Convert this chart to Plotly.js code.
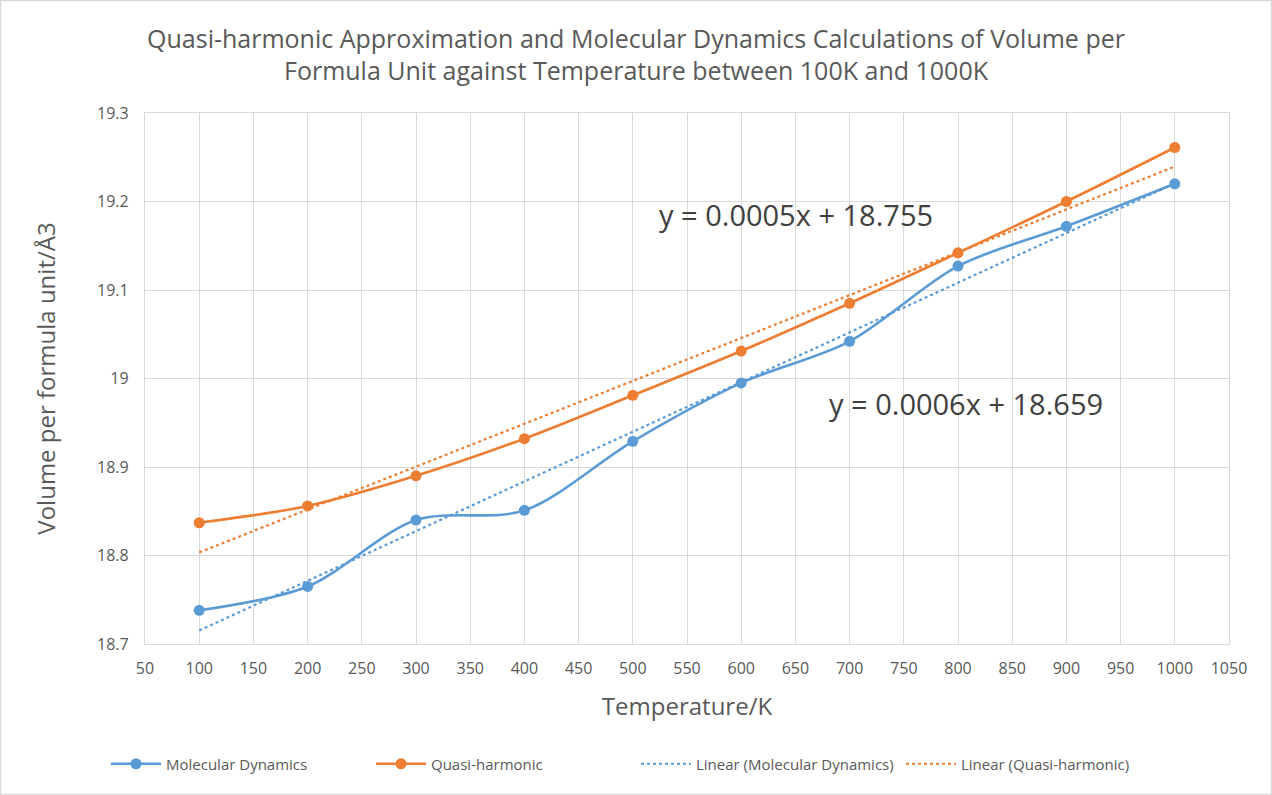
<!DOCTYPE html>
<html>
<head>
<meta charset="utf-8">
<script src="https://cdn.plot.ly/plotly-3.0.1.min.js"></script>
<style>
  html, body { margin: 0; padding: 0; background: #fff; }
  #plot { width: 1272px; height: 795px; }
</style>
</head>
<body>
<div id="plot"></div>
<script>
// temperatures (K)
var temps = [100, 200, 300, 400, 500, 600, 700, 800, 900, 1000];
// volume per formula unit
var mdVol = [18.738, 18.765, 18.840, 18.851, 18.929, 18.995, 19.042, 19.127, 19.172, 19.220];
var qhVol = [18.837, 18.856, 18.890, 18.932, 18.981, 19.031, 19.085, 19.142, 19.200, 19.261];

var xTicks = [50, 100, 150, 200, 250, 300, 350, 400, 450, 500, 550, 600, 650, 700, 750, 800, 850, 900, 950, 1000, 1050];
var yTicks = [18.7, 18.8, 18.9, 19, 19.1, 19.2, 19.3];

var blue = '#5B9BD5';
var orange = '#ED7D31';
var grey = '#595959';

// least squares fit, same as the excel trendline
function fit(xs, ys){
  var n = xs.length, sx = 0, sy = 0;
  for (var i = 0; i < n; i++){ sx += xs[i]; sy += ys[i]; }
  var mx = sx / n, my = sy / n, num = 0, den = 0;
  for (var j = 0; j < n; j++){
    num += (xs[j] - mx) * (ys[j] - my);
    den += (xs[j] - mx) * (xs[j] - mx);
  }
  var m = num / den;
  return {m: m, b: my - m * mx};
}

var mdFit = fit(temps, mdVol);
var qhFit = fit(temps, qhVol);

function fitLine(f){
  var ends = [temps[0], temps[temps.length - 1]];
  return {x: ends, y: ends.map(function(t){ return f.m * t + f.b; })};
}
function eqText(f){
  return 'y = ' + Number(f.m.toPrecision(1)).toFixed(4) + 'x + ' + f.b.toFixed(3);
}

var mdLine = fitLine(mdFit);
var qhLine = fitLine(qhFit);

var trace1 = {
  x: temps, y: mdVol,
  name: 'Molecular Dynamics',
  type: 'scatter', mode: 'lines+markers',
  line: {color: blue, width: 2.6, shape: 'spline', smoothing: 0.9},
  marker: {color: blue, size: 11}
};
var trace2 = {
  x: temps, y: qhVol,
  name: 'Quasi-harmonic',
  type: 'scatter', mode: 'lines+markers',
  line: {color: orange, width: 2.6, shape: 'spline', smoothing: 0.9},
  marker: {color: orange, size: 11}
};
var trace3 = {
  x: mdLine.x, y: mdLine.y,
  name: 'Linear (Molecular Dynamics)',
  type: 'scatter', mode: 'lines',
  line: {color: blue, width: 2.2, dash: 'dot'}
};
var trace4 = {
  x: qhLine.x, y: qhLine.y,
  name: 'Linear (Quasi-harmonic)',
  type: 'scatter', mode: 'lines',
  line: {color: orange, width: 2.2, dash: 'dot'}
};

var data = [trace1, trace2, trace3, trace4];

var layout = {
  width: 1272, height: 795,
  paper_bgcolor: '#fff', plot_bgcolor: '#fff',
  font: {family: 'Open Sans, sans-serif', color: grey},
  margin: {l: 145, r: 43, t: 113, b: 151},
  title: {
    text: 'Quasi-harmonic Approximation and Molecular Dynamics Calculations of Volume per<br>Formula Unit against Temperature between 100K and 1000K',
    font: {size: 25, color: grey},
    x: 0.5, xanchor: 'center',
    y: 0.94, yanchor: 'top', yref: 'container'
  },
  xaxis: {
    title: {text: 'Temperature/K', font: {size: 24, color: grey}, standoff: 19},
    range: [50, 1050],
    tickvals: xTicks,
    ticktext: xTicks.map(String),
    tickfont: {size: 16, color: grey},
    ticklabelstandoff: 10,
    gridcolor: '#d9d9d9', gridwidth: 1.3,
    showline: true, linecolor: '#d9d9d9', linewidth: 1.3, mirror: true,
    zeroline: false, fixedrange: true
  },
  yaxis: {
    title: {text: 'Volume per formula unit/Å3', font: {size: 24, color: grey}, standoff: 34},
    range: [18.7, 19.3],
    tickvals: yTicks,
    ticktext: yTicks.map(String),
    tickfont: {size: 16, color: grey},
    ticklabelstandoff: 12,
    gridcolor: '#d9d9d9', gridwidth: 1.3,
    showline: true, linecolor: '#d9d9d9', linewidth: 1.3, mirror: true,
    zeroline: false, fixedrange: true
  },
  legend: {
    orientation: 'h',
    xref: 'container', yref: 'container',
    x: 0.5, xanchor: 'center',
    y: 0.039, yanchor: 'middle',
    font: {size: 15, color: grey},
    itemwidth: 50,
    entrywidth: 200, entrywidthmode: 'pixels',
    traceorder: 'normal'
  },
  annotations: [
    {x: 651, y: 19.185, xref: 'x', yref: 'y', text: eqText(qhFit), showarrow: false,
     font: {size: 29, color: '#404040'}},
    {x: 807, y: 18.972, xref: 'x', yref: 'y', text: eqText(mdFit), showarrow: false,
     font: {size: 29, color: '#404040'}}
  ],
  shapes: [
    {type: 'rect', xref: 'paper', yref: 'paper',
     x0: -0.1333, x1: 1.0392, y0: -0.2834, y1: 1.2119,
     line: {color: '#d9d9d9', width: 1.3}}
  ]
};

Plotly.newPlot(document.getElementById('plot'), data, layout, {displaylogo: false, displayModeBar: false});
</script>
</body>
</html>
